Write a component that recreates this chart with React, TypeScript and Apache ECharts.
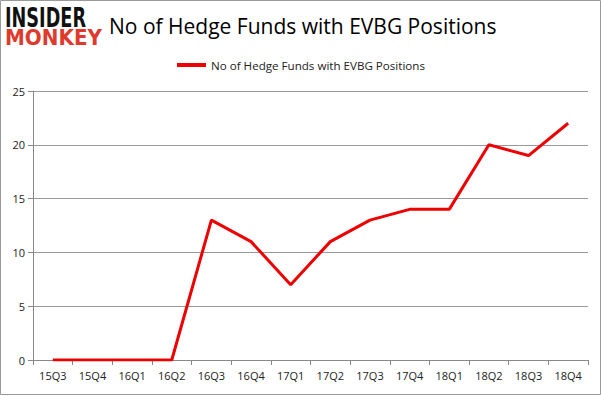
import React, { useEffect, useRef } from "react";
import * as echarts from "echarts";

const categories = ["15Q3", "15Q4", "16Q1", "16Q2", "16Q3", "16Q4", "17Q1", "17Q2", "17Q3", "17Q4", "18Q1", "18Q2", "18Q3", "18Q4"];
const hedgeFunds = [0, 0, 0, 0, 13, 11, 7, 11, 13, 14, 14, 20, 19, 22];
const seriesName = "No of Hedge Funds with EVBG Positions";
const titleText = "No of Hedge Funds with EVBG Positions";

export default function App() {
  const ref = useRef<HTMLDivElement>(null);
  useEffect(() => {
    document.body.style.margin = "0";
    const chart = echarts.init(ref.current!, null, { renderer: "svg" });
    chart.setOption({
      animation: false,
      backgroundColor: "#ffffff",
      title: {
        text: titleText,
        left: 104,
        top: 10,
        textStyle: { fontFamily: "Open Sans", fontSize: 21, fontWeight: "normal", color: "#000" },
      },
      legend: {
        data: [seriesName],
        top: 54,
        left: 172,
        itemWidth: 29,
        itemHeight: 4,
        icon: "rect",
        itemGap: 5,
        textStyle: { fontFamily: "Open Sans", fontSize: 11.6, color: "#222" },
      },
      grid: { left: 33, right: 13, top: 91, bottom: 36 },
      xAxis: {
        type: "category",
        data: categories,
        boundaryGap: true,
        axisLine: { lineStyle: { color: "#888" } },
        axisTick: { show: true, alignWithLabel: false, length: 5, lineStyle: { color: "#888" } },
        axisLabel: { fontFamily: "Open Sans", fontSize: 11, color: "#222", margin: 10 },
      },
      yAxis: {
        type: "value",
        min: 0,
        max: 25,
        interval: 5,
        axisLine: { show: true, lineStyle: { color: "#888" } },
        axisTick: { show: true, length: 5, lineStyle: { color: "#888" } },
        splitLine: { lineStyle: { color: "#999" } },
        axisLabel: { fontFamily: "Open Sans", fontSize: 11, color: "#222", margin: 8 },
      },
      series: [
        {
          name: seriesName,
          type: "line",
          data: hedgeFunds,
          symbol: "none",
          lineStyle: { color: "#ee0000", width: 3 },
          itemStyle: { color: "#ee0000" },
        },
      ],
      graphic: [
        {
          type: "rect",
          shape: { x: 0.5, y: 0.5, width: 600, height: 394 },
          style: { fill: "none", stroke: "#999", lineWidth: 1 },
        },
        {
          type: "text",
          x: 5,
          y: 7,
          scaleX: 0.68,
          style: { text: "INSIDER", fontFamily: "DejaVu Sans", fontWeight: 900, fontSize: 26, lineHeight: 21, fill: "#111" },
        },
        {
          type: "text",
          x: 5,
          y: 29,
          scaleX: 0.95,
          style: { text: "MONKEY", fontFamily: "DejaVu Sans", fontWeight: 900, fontSize: 21, lineHeight: 17, fill: "#e03a2f" },
        },
      ],
    });
    return () => chart.dispose();
  }, []);
  return <div ref={ref} style={{ width: 601, height: 396 }} />;
}
